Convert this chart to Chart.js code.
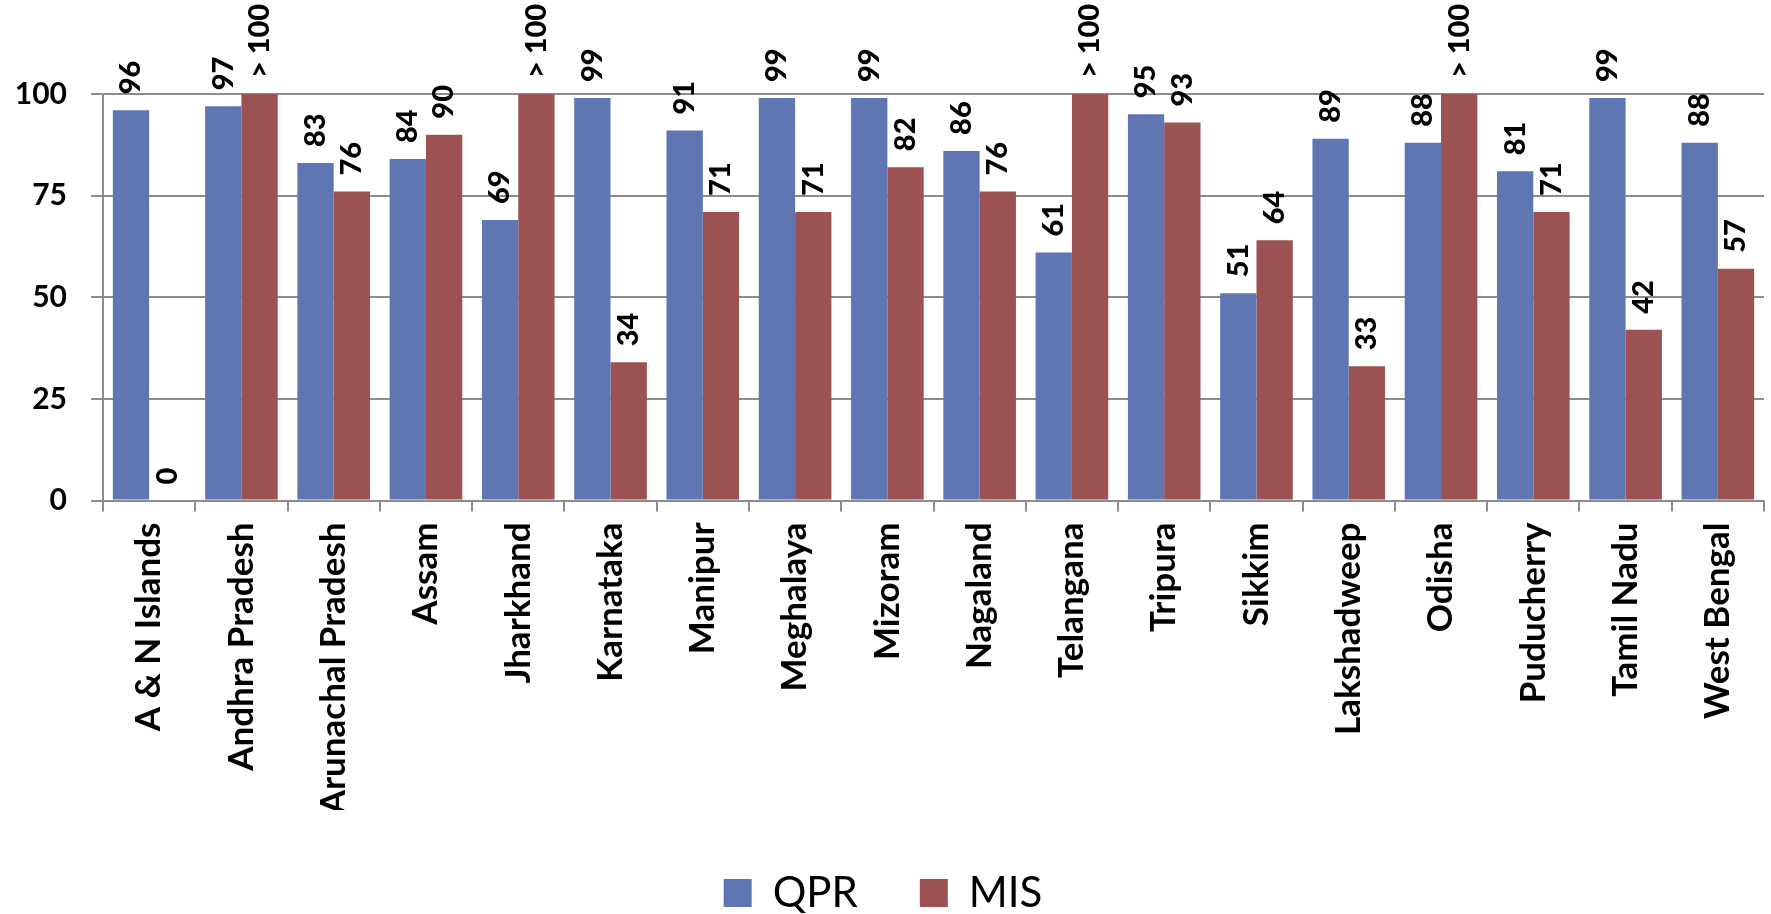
<!DOCTYPE html>
<html>
<head>
<meta charset="utf-8">
<script src="https://cdn.jsdelivr.net/npm/chart.js@4.4.1/dist/chart.umd.min.js"></script>
<style>
  html, body { margin: 0; padding: 0; background: #ffffff; }
  #wrap { width: 1771px; height: 914px; position: relative; }
</style>
</head>
<body>
<div id="wrap"><canvas id="c"></canvas></div>
<script>
const categories = ["A & N Islands", "Andhra Pradesh", "Arunachal Pradesh", "Assam", "Jharkhand", "Karnataka", "Manipur", "Meghalaya", "Mizoram", "Nagaland", "Telangana", "Tripura", "Sikkim", "Lakshadweep", "Odisha", "Puducherry", "Tamil Nadu", "West Bengal"];
const qprValues = [96, 97, 83, 84, 69, 99, 91, 99, 99, 86, 61, 95, 51, 89, 88, 81, 99, 88];
const misValues = [0, 100, 76, 90, 100, 34, 71, 71, 82, 76, 100, 93, 64, 33, 100, 71, 42, 57];
const qprLabels = ["96", "97", "83", "84", "69", "99", "91", "99", "99", "86", "61", "95", "51", "89", "88", "81", "99", "88"];
const misLabels = ["0", "> 100", "76", "90", "> 100", "34", "71", "71", "82", "76", "> 100", "93", "64", "33", "> 100", "71", "42", "57"];
const yTicks = [0, 25, 50, 75, 100];

const seriesLabels = [qprLabels, misLabels];
const GRID = '#8c8c8c';

const dataLabelPlugin = {
  id: 'dataLabels',
  afterDatasetsDraw(chart) {
    const ctx = chart.ctx;
    ctx.save();
    ctx.font = '900 29px Lato';
    ctx.fillStyle = '#000000';
    ctx.textAlign = 'left';
    ctx.textBaseline = 'middle';
    chart.data.datasets.forEach((ds, di) => {
      const meta = chart.getDatasetMeta(di);
      meta.data.forEach((bar, i) => {
        ctx.save();
        ctx.translate(bar.x, bar.y - 16);
        ctx.rotate(-Math.PI / 2);
        ctx.fillText(seriesLabels[di][i], 0, 0);
        ctx.restore();
      });
    });
    ctx.restore();
  }
};

new Chart(document.getElementById('c'), {
  type: 'bar',
  data: {
    labels: categories,
    datasets: [
      { label: 'QPR', data: qprValues, backgroundColor: '#6076B3', borderWidth: 0 },
      { label: 'MIS', data: misValues, backgroundColor: '#9C5153', borderWidth: 0 }
    ]
  },
  options: {
    responsive: true,
    maintainAspectRatio: false,
    devicePixelRatio: 1,
    animation: false,
    layout: { padding: { top: 94, right: 5, left: 0, bottom: -10 } },
    datasets: { bar: { categoryPercentage: 0.787, barPercentage: 1.0 } },
    plugins: {
      tooltip: { enabled: false },
      legend: {
        position: 'bottom',
        labels: {
          font: { family: 'Lato', size: 42 },
          color: '#000000',
          boxWidth: 28,
          boxHeight: 28,
          padding: 62
        }
      }
    },
    scales: {
      x: {
        offset: true,
        grid: { display: true, offset: true, drawOnChartArea: false, drawTicks: true, tickLength: 11, color: GRID, lineWidth: 2 },
        border: { display: true, color: GRID, width: 2 },
        ticks: {
          autoSkip: false, minRotation: 90, maxRotation: 90, padding: 11,
          font: { family: 'Lato', size: 35, weight: 'bold' }, color: '#000000'
        },
        afterFit(scale) { scale.height = 309.5; }
      },
      y: {
        min: 0, max: 100,
        afterBuildTicks(scale) { scale.ticks = yTicks.map(v => ({ value: v })); },
        grid: { color: GRID, lineWidth: 2, drawTicks: true, tickLength: 12 },
        border: { display: true, color: GRID, width: 2 },
        ticks: {
          padding: 24,
          font: { family: 'Lato', size: 30, weight: 'bold' }, color: '#000000'
        },
        afterFit(scale) { scale.width = 103; }
      }
    }
  },
  plugins: [dataLabelPlugin]
});
</script>
</body>
</html>
